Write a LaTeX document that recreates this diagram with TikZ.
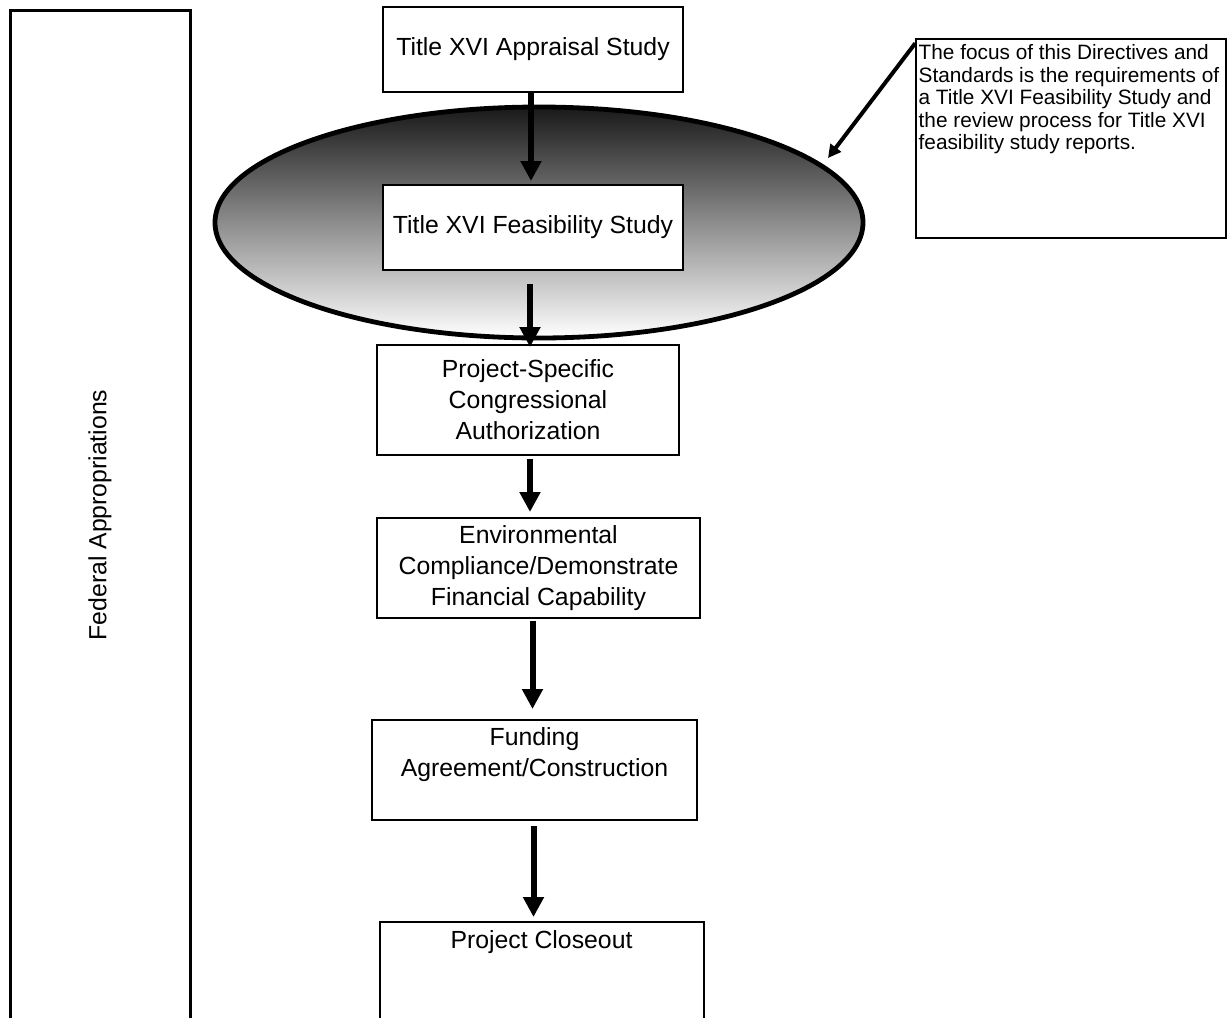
\documentclass[tikz,border=0pt]{standalone}
\usepackage{fontspec}
\setmainfont{Liberation Sans}
\usetikzlibrary{shapes.geometric, arrows.meta, positioning}
\tikzset{
  stage/.style={rectangle, draw=black, line width=1pt, fill=white, align=center,
                inner sep=2pt, font=\fontsize{12.4pt}{15.5pt}\selectfont},
  stagetext/.style={align=center, inner sep=2pt, font=\fontsize{12.4pt}{15.5pt}\selectfont},
  notebox/.style={rectangle, draw=black, line width=0.75pt, fill=white},
  notetext/.style={align=left, inner sep=0pt, font=\fontsize{10.4pt}{11.25pt}\selectfont},
  focusring/.style={ellipse, draw=black, line width=2.4pt, inner sep=0pt,
                    top color=black!90, bottom color=white},
  flow/.style={-{Triangle[length=10pt, width=10pt]}, line width=3pt},
  callout/.style={-{Triangle[length=6.5pt, width=6.5pt]}, line width=2pt},
}
\begin{document}
\begin{tikzpicture}[x=0.5pt, y=-0.5pt]
  \useasboundingbox (0,0) rectangle (1227,1018);
  \clip (0,0) rectangle (1227,1018);
  \node[stage, rotate=90, minimum width=505pt, minimum height=90pt, line width=1.5pt] (fed) at (100,515) {Federal Appropriations};
  \node[focusring, minimum width=324pt, minimum height=115.5pt] (focus) at (539,222.5) {};
  \node[stage, minimum width=150pt, minimum height=42.5pt] (appr) at (533,49.5) {Title XVI Appraisal Study};
  \node[stage, minimum width=150pt, minimum height=42.5pt] (feas) at (533,227.5) {Title XVI Feasibility Study};
  \node[stage, minimum width=151pt, minimum height=55pt] (auth) at (528,400) {Project-Specific\\Congressional\\Authorization};
  \node[stage, minimum width=161.5pt, minimum height=50pt] (env) at (538.5,568) {Environmental\\Compliance/Demonstrate\\Financial Capability};
  \node[stage, minimum width=162.5pt, minimum height=50pt] (fund) at (534.5,770) {};
  \node[stagetext, below=2pt of fund.north] (fundtext) {Funding\\Agreement/Construction};
  \node[stage, minimum width=162pt, minimum height=58pt] (close) at (541.5,980) {};
  \node[stagetext, below=2.5pt of close.north] (closetext) {Project Closeout};
  \node[notebox, minimum width=155pt, minimum height=99.5pt] (note) at (1071,138.5) {};
  \node[notetext, below right=3pt and 1.5pt of note.north west] (notetxt)
    {The focus of this Directives and\\Standards is the requirements of\\a Title XVI Feasibility Study and\\the review process for Title XVI\\feasibility study reports.};
  \coordinate (focustip) at (828,158);
  \draw[flow, shorten <=-1pt, shorten >=1.5pt] ([xshift=-1pt]appr.south) -- ([xshift=-1pt]feas.north);
  \draw[flow, shorten <=6.5pt, shorten >=-1.5pt] ([xshift=-1.5pt]feas.south) -- ([xshift=-1.5pt]feas.south |- auth.north);
  \draw[flow, shorten <=1.5pt, shorten >=2.5pt] ([xshift=1pt]auth.south) -- ([xshift=1pt]auth.south |- env.north);
  \draw[flow, shorten <=1pt, shorten >=5pt] ([xshift=-3pt]env.south) -- ([xshift=-1pt]fund.north);
  \draw[flow, shorten <=2.5pt, shorten >=2pt] ([xshift=-0.5pt]fund.south) -- ([xshift=-0.5pt]fund.south |- close.north);
  \draw[callout] ([yshift=-2.5pt]note.north west) -- (focustip);
\end{tikzpicture}
\end{document}
